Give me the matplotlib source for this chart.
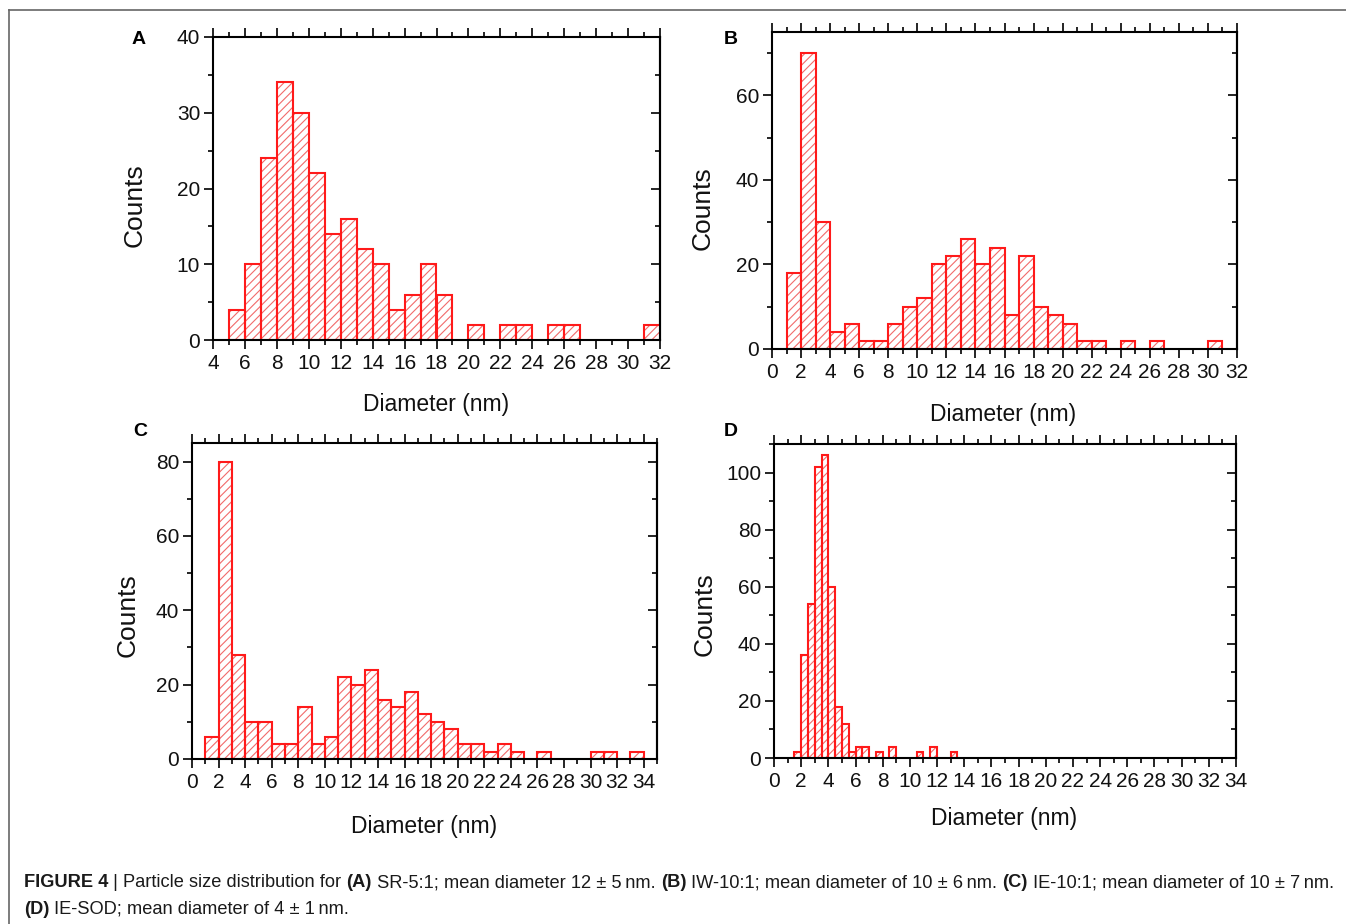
import matplotlib
matplotlib.use('Agg')
import matplotlib.pyplot as plt
from matplotlib.ticker import MultipleLocator
from matplotlib.lines import Line2D

plt.rcParams['font.family'] = ['Liberation Sans', 'DejaVu Sans']
plt.rcParams['hatch.linewidth'] = 0.8

# ---------------- data ----------------
bins_A = [5, 6, 7, 8, 9, 10, 11, 12, 13, 14, 15, 16, 17, 18, 19, 20, 21, 22, 23, 24, 25, 26, 27, 28, 29, 30, 31]
counts_A = [4, 10, 24, 34, 30, 22, 14, 16, 12, 10, 4, 6, 10, 6, 0, 2, 0, 2, 2, 0, 2, 2, 0, 0, 0, 0, 2]

bins_B = [1, 2, 3, 4, 5, 6, 7, 8, 9, 10, 11, 12, 13, 14, 15, 16, 17, 18, 19, 20, 21, 22, 23, 24, 25, 26, 27, 28, 29, 30]
counts_B = [18, 70, 30, 4, 6, 2, 2, 6, 10, 12, 20, 22, 26, 20, 24, 8, 22, 10, 8, 6, 2, 2, 0, 2, 0, 2, 0, 0, 0, 2]

bins_C = [1, 2, 3, 4, 5, 6, 7, 8, 9, 10, 11, 12, 13, 14, 15, 16, 17, 18, 19, 20, 21, 22, 23, 24, 25, 26, 27, 28, 29, 30, 31, 32, 33]
counts_C = [6, 80, 28, 10, 10, 4, 4, 14, 4, 6, 22, 20, 24, 16, 14, 18, 12, 10, 8, 4, 4, 2, 4, 2, 0, 2, 0, 0, 0, 2, 2, 0, 2]

bins_D = [1.5, 2.0, 2.5, 3.0, 3.5, 4.0, 4.5, 5.0, 5.5, 6.0, 6.5, 7.0, 7.5, 8.0, 8.5, 9.0, 9.5, 10.0, 10.5, 11.0, 11.5, 12.0, 12.5, 13.0]
counts_D = [2, 36, 54, 102, 106, 60, 18, 12, 2, 4, 4, 0, 2, 0, 4, 0, 0, 0, 2, 0, 4, 0, 0, 2]

panel_letters = ['A', 'B', 'C', 'D']
x_label = 'Diameter (nm)'
y_label = 'Counts'

caption_line1 = [("FIGURE 4", True), (" | Particle size distribution for ", False), ("(A)", True),
                 (" SR-5:1; mean diameter 12 \u00b1 5\u2009nm. ", False), ("(B)", True),
                 (" IW-10:1; mean diameter of 10 \u00b1 6\u2009nm. ", False), ("(C)", True),
                 (" IE-10:1; mean diameter of 10 \u00b1 7\u2009nm.", False)]
caption_line2 = [("(D)", True), (" IE-SOD; mean diameter of 4 \u00b1 1\u2009nm.", False)]

# ---------------- layout ----------------
W, H = 1346, 924
fig = plt.figure(figsize=(W / 100, H / 100), dpi=100)


def box(l, t, r, b):
    return [l / W, 1 - b / H, (r - l) / W, (b - t) / H]


specs = [
    dict(data=(bins_A, counts_A, 1.0), rect=box(213, 37, 660, 340), xlim=(4, 32), ylim=(0, 40),
         xmaj=2, xmin=1, ymaj=10, ymin=5, letter=(139, 40), ylab=(135, 205), xlab=(436, 405)),
    dict(data=(bins_B, counts_B, 1.0), rect=box(772, 32, 1237, 349), xlim=(0, 32), ylim=(0, 75),
         xmaj=2, xmin=1, ymaj=20, ymin=10, letter=(731, 40), ylab=(703, 208), xlab=(1003, 414)),
    dict(data=(bins_C, counts_C, 1.0), rect=box(192, 443, 657, 759), xlim=(0, 35), ylim=(0, 85),
         xmaj=2, xmin=1, ymaj=20, ymin=10, letter=(140, 432), ylab=(128, 615), xlab=(424, 826)),
    dict(data=(bins_D, counts_D, 0.5), rect=box(774, 444, 1236, 758), xlim=(0, 34), ylim=(0, 110),
         xmaj=2, xmin=1, ymaj=20, ymin=10, letter=(731, 432), ylab=(705, 614), xlab=(1004, 818)),
]

red = '#ff1a1a'
hatch_red = '#f26b6b'
tick_fs = 15
xlabel_fs = 16.5
ylabel_fs = 19

for spec, letter in zip(specs, panel_letters):
    ax = fig.add_axes(spec['rect'])
    bins, counts, w = spec['data']
    bx = [b for b, c in zip(bins, counts) if c > 0]
    bh = [c for c in counts if c > 0]
    ax.bar(bx, bh, width=w, align='edge', facecolor='white', edgecolor=hatch_red,
           hatch='////', linewidth=0, zorder=2)
    ax.bar(bx, bh, width=w, align='edge', facecolor='none', edgecolor=red,
           linewidth=1.5, zorder=3)
    ax.set_xlim(*spec['xlim'])
    ax.set_ylim(*spec['ylim'])
    ax.xaxis.set_major_locator(MultipleLocator(spec['xmaj']))
    ax.xaxis.set_minor_locator(MultipleLocator(spec['xmin']))
    ax.yaxis.set_major_locator(MultipleLocator(spec['ymaj']))
    ax.yaxis.set_minor_locator(MultipleLocator(spec['ymin']))
    for s in ax.spines.values():
        s.set_linewidth(1.5)
        s.set_color('black')
        s.set_zorder(4)
    ax.tick_params(axis='x', which='both', direction='out', top=True, bottom=True,
                   labeltop=False, labelsize=tick_fs, pad=4, width=1.2)
    ax.tick_params(axis='y', which='both', direction='out', left=True, right=False,
                   labelsize=tick_fs, pad=3, width=1.2)
    ax.tick_params(which='major', length=6.2)
    ax.tick_params(which='minor', length=3.3)
    sec = ax.secondary_yaxis('right')
    sec.yaxis.set_major_locator(MultipleLocator(spec['ymaj']))
    sec.yaxis.set_minor_locator(MultipleLocator(spec['ymin']))
    sec.tick_params(which='both', direction='in', labelright=False, width=1.2)
    sec.tick_params(which='major', length=6.2)
    sec.tick_params(which='minor', length=3.3)
    sec.spines['right'].set_linewidth(1.5)
    for lbl in ax.get_xticklabels() + ax.get_yticklabels():
        lbl.set_color('#111111')

    lx, ly = spec['letter']
    fig.text(lx / W, 1 - ly / H, letter, fontsize=14, fontweight='bold', ha='center', va='center')
    yx, yy = spec['ylab']
    fig.text(yx / W, 1 - yy / H, y_label, fontsize=ylabel_fs, rotation=90, ha='center', va='center',
             color='#111111')
    xx, xy = spec['xlab']
    fig.text(xx / W, 1 - xy / H, x_label, fontsize=xlabel_fs, ha='center', va='center',
             color='#111111')

# frame lines
fig.add_artist(Line2D([9 / W, 1.0], [1 - 10 / H, 1 - 10 / H], transform=fig.transFigure,
                      color='#666666', lw=1.2))
fig.add_artist(Line2D([9 / W, 9 / W], [1 - 10 / H, 0], transform=fig.transFigure,
                      color='#666666', lw=1.2))

# caption with mixed weights
renderer = fig.canvas.get_renderer()
cap_family = ['Liberation Sans Narrow', 'Liberation Sans', 'DejaVu Sans']


def piece_width(txt, bold, fs):
    kw = dict(fontsize=fs, fontweight='bold' if bold else 'normal', family=cap_family)
    t1 = fig.text(0, 0, '|' + txt + '|', **kw)
    t2 = fig.text(0, 0, '||', **kw)
    wdt = t1.get_window_extent(renderer).width - t2.get_window_extent(renderer).width
    t1.remove()
    t2.remove()
    return wdt


cap_fs = 12.0
target = 1337 - 24
total = sum(piece_width(t, b, cap_fs) for t, b in caption_line1)
cap_fs = min(cap_fs * target / total, 13.5)


def draw_line(pieces, x0, ybase):
    x = x0
    for txt, bold in pieces:
        fig.text(x / W, 1 - ybase / H, txt, fontsize=cap_fs, family=cap_family,
                 fontweight='bold' if bold else 'normal', ha='left', va='baseline',
                 color='#1a1a1a')
        x += piece_width(txt, bold, cap_fs)


draw_line(caption_line1, 24, 887)
draw_line(caption_line2, 24, 914)

fig.savefig('out.png', dpi=100)
